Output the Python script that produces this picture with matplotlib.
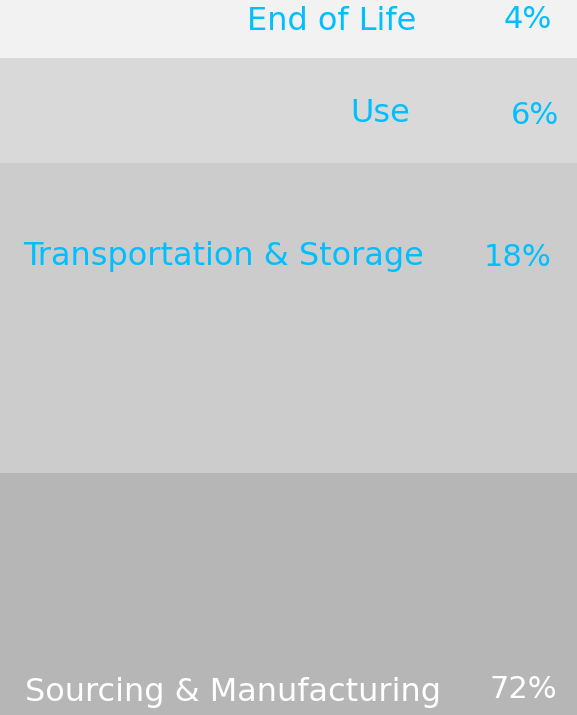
import numpy as np
import matplotlib.pyplot as plt

# datos
etapas = ["End of Life", "Use", "Transportation & Storage", "Sourcing & Manufacturing"]
porcentajes = [4, 6, 18, 72]

# alto de cada franja tal como aparece en la imagen (px), de arriba a abajo
altos = [58, 105, 310, 242]
fondos = ["#f2f2f2", "#d9d9d9", "#cccccc", "#b6b6b6"]
color_txt = ["#00bfff", "#00bfff", "#00bfff", "#ffffff"]

# posicion de los textos dentro de cada franja
x_etiqueta = [416, 410, 424, 441]   # borde derecho
y_etiqueta = [22, 114, 257, 693]
x_pct = [528, 535, 518, 523]        # centro
y_pct = [20, 115, 258, 689]

W, H = 577, 715
fig = plt.figure(figsize=(W / 100, H / 100), dpi=100)
ax = fig.add_axes([0, 0, 1, 1])

base = np.concatenate([[0], np.cumsum(altos)[:-1]])
ax.bar([W / 2] * len(altos), altos, bottom=base, width=W, color=fondos,
       edgecolor="none", align="center")

fuente = "DejaVu Sans"
for i in range(len(etapas)):
    ax.text(x_etiqueta[i], y_etiqueta[i], etapas[i], ha="right", va="center",
            fontsize=23, color=color_txt[i], family=fuente)
    ax.text(x_pct[i], y_pct[i], f"{porcentajes[i]}%", ha="center", va="center",
            fontsize=22, color=color_txt[i], family=fuente)

ax.set_xlim(0, W)
ax.set_ylim(H, 0)
ax.axis("off")

fig.savefig("out.png", dpi=100)
